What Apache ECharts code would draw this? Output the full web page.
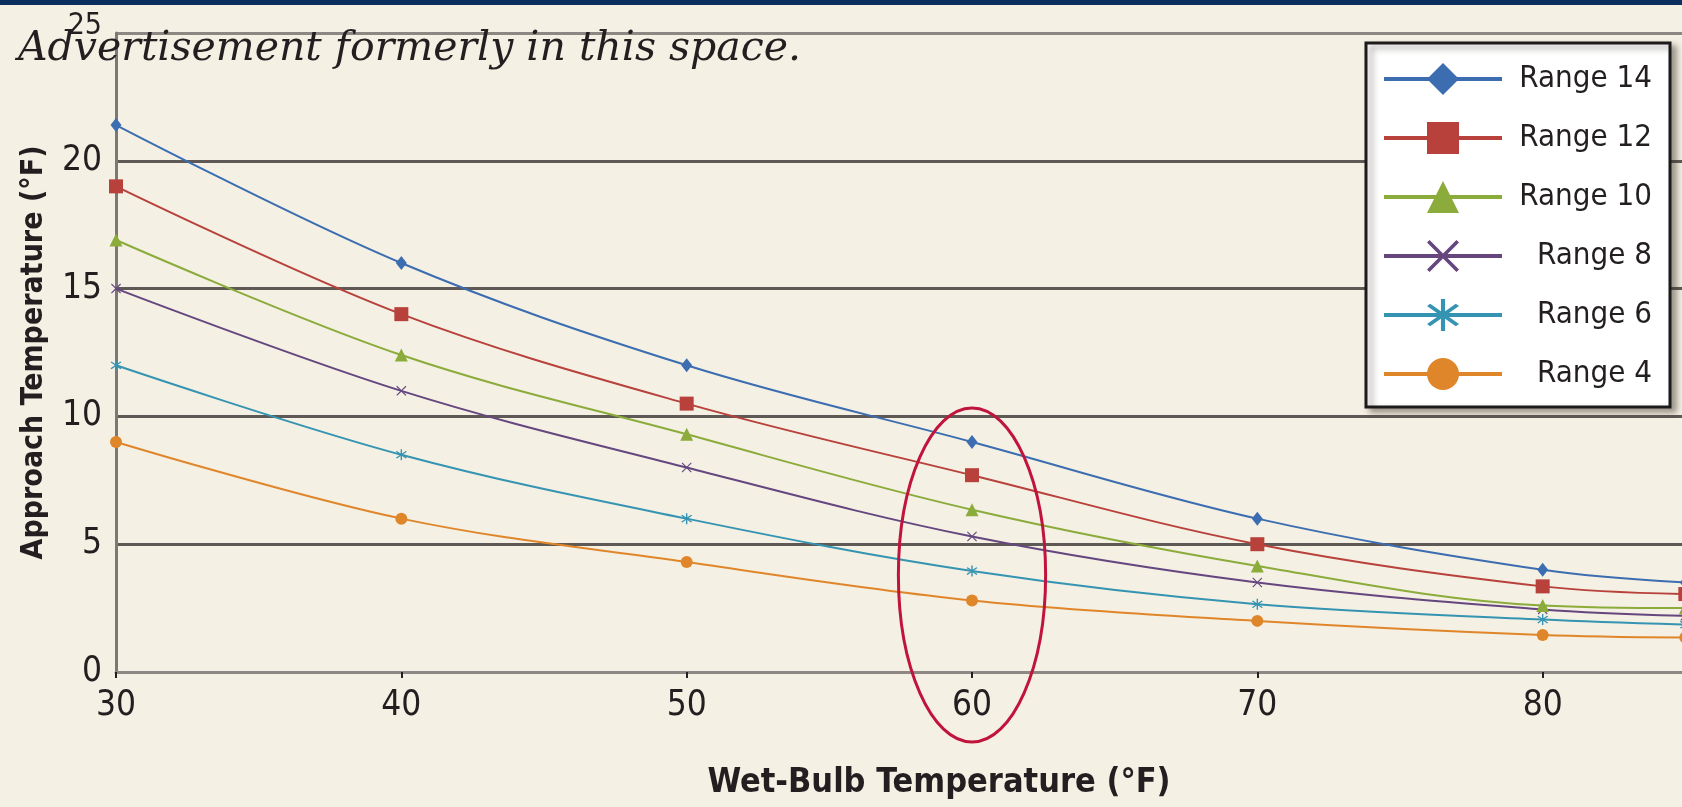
<!DOCTYPE html>
<html><head><meta charset="utf-8">
<script src="https://cdn.jsdelivr.net/npm/echarts@6/dist/echarts.min.js"></script>
<style>html,body{margin:0;padding:0;background:#f4f0e4;overflow:hidden}#c{width:1682px;height:807px}</style>
</head><body><div id="c"></div>
<script>
// ---- data ----
const wetBulb = [30, 40, 50, 60, 70, 80, 85];
const range14 = [21.4, 16.0, 12.0, 9.0, 6.0, 4.0, 3.5];
const range12 = [19.0, 14.0, 10.5, 7.7, 5.0, 3.35, 3.05];
const range10 = [16.9, 12.4, 9.3, 6.35, 4.15, 2.6, 2.5];
const range8  = [15.0, 11.0, 8.0, 5.3, 3.5, 2.45, 2.2];
const range6  = [12.0, 8.5, 6.0, 3.95, 2.65, 2.05, 1.85];
const range4  = [9.0, 6.0, 4.3, 2.8, 2.0, 1.45, 1.35];
const seriesNames = ['Range 14', 'Range 12', 'Range 10', 'Range 8', 'Range 6', 'Range 4'];
const xTicks = [30, 40, 50, 60, 70, 80, 90];
const yTicks = [0, 5, 10, 15, 20, 25];
const xTitle = 'Wet-Bulb Temperature (°F)';
const yTitle = 'Approach Temperature (°F)';
const noteText = 'Advertisement formerly in this space.';
// highlighted region (data units)
const highlightX = [57.42, 62.58];
const highlightY = [-2.74, 10.33];

// ---- styles ----
const NARROW = "'Liberation Sans Narrow','DejaVu Sans Condensed','Arial Narrow',sans-serif";
const colors = ['#3b6db0', '#b8413b', '#8bab3b', '#65467f', '#3594b2', '#e0862a'];
const X_PATH = 'path://M0,1.6 L1.6,0 L10,8.4 L18.4,0 L20,1.6 L11.6,10 L20,18.4 L18.4,20 L10,11.6 L1.6,20 L0,18.4 L8.4,10 Z';
const STAR_PATH = 'path://M3,4.4 L4.4,3 L10,8.6 L15.6,3 L17,4.4 L11.4,10 L17,15.6 L15.6,17 L10,11.4 L4.4,17 L3,15.6 L8.6,10 Z M9.1,0 L10.9,0 L10.9,20 L9.1,20 Z';
const symbols = ['diamond', 'rect', 'triangle', X_PATH, STAR_PATH, 'circle'];
const symbolSizes = [[11, 14], 14, 13, 10, 11, 12];
const values = [range14, range12, range10, range8, range6, range4];

const chart = echarts.init(document.getElementById('c'), null, {renderer: 'canvas'});

const series = seriesNames.map((name, i) => ({
  name: name,
  type: 'line',
  data: wetBulb.map((x, j) => [x, values[i][j]]),
  smooth: 0.35,
  symbol: symbols[i],
  symbolSize: symbolSizes[i],
  showAllSymbol: true,
  clip: false,
  lineStyle: {color: colors[i], width: 2},
  itemStyle: {color: colors[i], borderWidth: 0},
  emphasis: {disabled: true},
  z: 3 + (6 - i)
}));

const noteGraphic = {type: 'text', left: 18, top: 29, z: 150,
  style: {text: noteText, fontFamily: "'DejaVu Serif','Liberation Serif',serif", fontStyle: 'italic', fontSize: 41, fill: '#231f20'}};
const bandGraphic = {type: 'rect', left: 0, top: 0, z: 200, shape: {width: 1682, height: 5}, style: {fill: '#0b2f5e'}};

const option = {
  backgroundColor: '#f4f0e4',
  animation: false,
  grid: {left: 116, top: 33, bottom: 135, width: 1712, containLabel: false, outerBoundsMode: 'none'},
  xAxis: {
    type: 'value',
    min: xTicks[0], max: xTicks[xTicks.length - 1], interval: xTicks[1] - xTicks[0],
    name: xTitle, nameLocation: 'middle', nameGap: 94,
    nameTextStyle: {fontFamily: NARROW, fontWeight: 'bold', fontSize: 34, color: '#231f20', padding: [0, 66, 0, 0]},
    axisLine: {show: true, lineStyle: {color: '#8d8883', width: 3}},
    axisTick: {show: true, length: 6, inside: false, lineStyle: {color: '#231f20', width: 2}},
    axisLabel: {fontFamily: NARROW, fontSize: 35, color: '#231f20', margin: 16},
    splitLine: {show: false}
  },
  yAxis: {
    type: 'value',
    min: yTicks[0], max: yTicks[yTicks.length - 1], interval: yTicks[1] - yTicks[0],
    name: yTitle, nameLocation: 'middle', nameRotate: 90, nameGap: 67,
    nameTextStyle: {fontFamily: NARROW, fontWeight: 'bold', fontSize: 30, color: '#231f20', padding: [0, 0, 0, 0]},
    axisLine: {show: true, lineStyle: {color: '#7d7873', width: 3}},
    axisTick: {show: false},
    axisLabel: {
      fontFamily: NARROW, fontSize: 35, color: '#231f20', margin: 14,
      formatter: v => v === yTicks[yTicks.length - 1] ? '{t|' + v + '}' : String(v),
      rich: {t: {fontFamily: NARROW, fontSize: 30, color: '#231f20', padding: [0, 0, 14, 0]}}
    },
    splitLine: {show: true, lineStyle: {color: ['#5e5954', '#5e5954', '#5e5954', '#5e5954', '#5e5954', '#8c8782'], width: 3}}
  },
  legend: {
    orient: 'vertical',
    left: 1366, top: 43,
    backgroundColor: '#ffffff',
    borderColor: '#1c1a1a', borderWidth: 3, borderRadius: 0,
    shadowColor: 'rgba(60,50,40,0.45)', shadowBlur: 6, shadowOffsetX: 5, shadowOffsetY: 4,
    padding: [20, 18, 17, 16],
    itemWidth: 118, itemHeight: 40, itemGap: 27,
    lineStyle: {width: 4},
    data: seriesNames,
    formatter: n => '{a|' + n + '}',
    textStyle: {
      rich: {a: {width: 145, align: 'right', fontFamily: NARROW, fontSize: 31, color: '#231f20', lineHeight: 40}}
    },
    selectedMode: false
  },
  graphic: [bandGraphic, noteGraphic],
  series: series
};
chart.setOption(option);

// highlight ellipse positioned through the chart's own scales
const p1 = chart.convertToPixel({gridIndex: 0}, [highlightX[0], highlightY[1]]);
const p2 = chart.convertToPixel({gridIndex: 0}, [highlightX[1], highlightY[0]]);
chart.setOption({
  graphic: [bandGraphic, noteGraphic,
    {type: 'ellipse', z: 120,
      shape: {cx: (p1[0] + p2[0]) / 2, cy: (p1[1] + p2[1]) / 2, rx: Math.abs(p2[0] - p1[0]) / 2, ry: Math.abs(p2[1] - p1[1]) / 2},
      style: {fill: 'none', stroke: '#c0143c', lineWidth: 3}}
  ]
});
</script></body></html>
